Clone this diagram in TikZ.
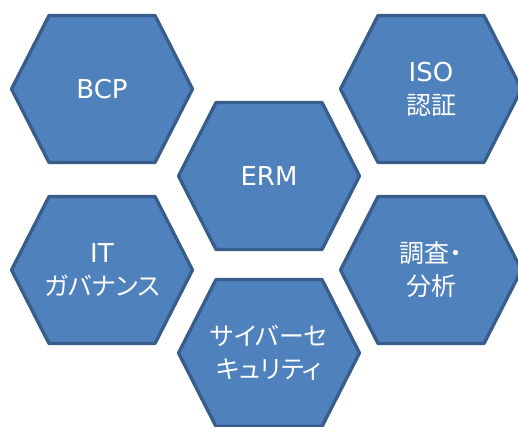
\documentclass[tikz,border=0pt]{standalone}
\usepackage{fontspec}
\setmainfont{Noto Sans CJK JP}[RawFeature=+palt]
\newfontfamily\latinfont{DejaVu Sans}
\newcommand\lat[1]{{\latinfont\fontsize{26}{33}\selectfont #1}}
\definecolor{hexfill}{HTML}{4F81BD}
\definecolor{hexline}{HTML}{385D8A}
\tikzset{
  hexshape/.style={fill=hexfill, draw=hexline, line width=3.3pt, line join=round},
  hexlabel/.style={text=white, font=\fontsize{25}{33}\selectfont, align=center, inner sep=0pt}
}
\newcommand\hexdraw[1]{\draw[hexshape] (#1) ++(-90.5,0) -- ++(37.5,-73.5) -- ++(106,0) -- ++(37.5,73.5) -- ++(-37.5,73.5) -- ++(-106,0) -- cycle;}
\begin{document}
\begin{tikzpicture}[x=1pt,y=-1pt]
\useasboundingbox (0,0) rectangle (518,426);
\coordinate (pbcp) at (102,89);
\coordinate (piso) at (431,89);
\coordinate (perm) at (269,176);
\coordinate (pit) at (102,270);
\coordinate (pana) at (431,270);
\coordinate (pcyb) at (269,353);
\foreach \p in {pbcp,piso,perm,pit,pana,pcyb} {\hexdraw{\p}}
\node[hexlabel] (bcp) at (pbcp) {\lat{BCP}};
\node[hexlabel] (iso) at (piso) {\lat{ISO}\\認証};
\node[hexlabel] (erm) at (perm) {\lat{ERM}};
\node[hexlabel] (it) at (pit) {\lat{IT}\\ガバナンス};
\node[hexlabel] (ana) at (pana) {調査・\\分析};
\node[hexlabel] (cyb) at (pcyb) {サイバーセ\\キュリティ};
\end{tikzpicture}
\end{document}
